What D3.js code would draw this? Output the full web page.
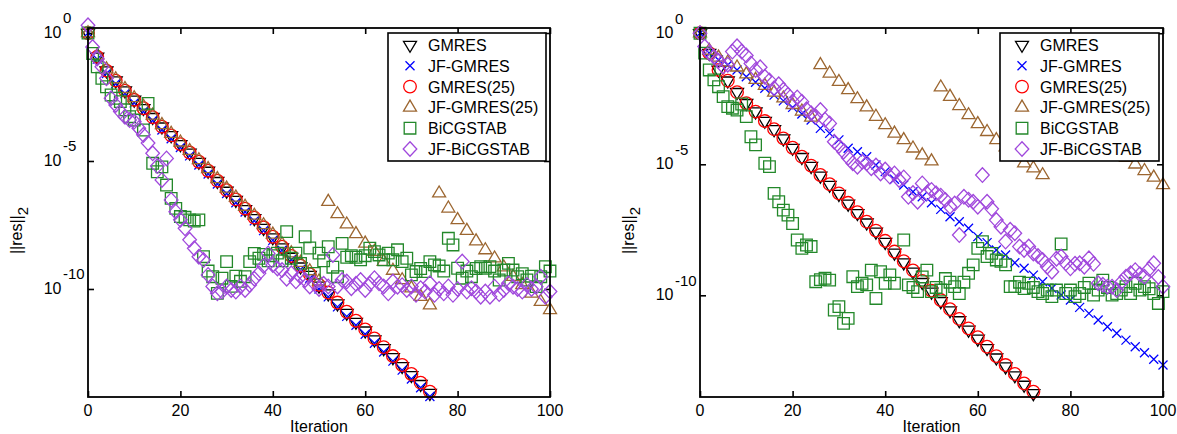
<!DOCTYPE html>
<meta charset="utf-8">
<style>
body { margin: 0; background: #fff; }
text { font-family: "Liberation Sans", Arial, sans-serif; font-size: 16px; fill: #000; }
.mk { fill: none; stroke-width: 1.3px; }
.frame { fill: none; stroke: #000; stroke-width: 1.8px; }
.axis path { display: none; }
.axis line { stroke: #000; stroke-width: 1.6px; }
</style>
<svg width="1177" height="434"></svg>
<script src="https://cdn.jsdelivr.net/npm/d3@7/dist/d3.min.js"></script>
<script>

// [iteration, log10 ||res||_2]

// ---- left panel ----
var leftGMRES = [[0,0],[2,-0.93],[4,-1.47],[6,-1.86],[8,-2.25],[10,-2.61],[12,-2.94],[14,-3.29],[16,-3.66],[18,-4.0],[20,-4.35],[22,-4.68],[24,-5.04],[26,-5.39],[28,-5.79],[30,-6.17],[32,-6.53],[34,-6.89],[36,-7.24],[38,-7.62],[40,-7.99],[42,-8.38],[44,-8.75],[46,-9.13],[48,-9.46],[50,-9.88],[52,-10.18],[54,-10.57],[56,-10.94],[58,-11.29],[60,-11.63],[62,-11.98],[64,-12.32],[66,-12.67],[68,-13.02],[70,-13.37],[72,-13.72],[74,-14.07]];
var leftJFGMRES = [[0,0],[2,-1.02],[4,-1.58],[6,-1.98],[8,-2.37],[10,-2.73],[12,-3.07],[14,-3.42],[16,-3.79],[18,-4.13],[20,-4.47],[22,-4.8],[24,-5.16],[26,-5.51],[28,-5.9],[30,-6.27],[32,-6.63],[34,-6.99],[36,-7.34],[38,-7.72],[40,-8.1],[42,-8.49],[44,-8.86],[46,-9.24],[48,-9.58],[50,-10.0],[52,-10.31],[54,-10.7],[56,-11.07],[58,-11.42],[60,-11.77],[62,-12.12],[64,-12.46],[66,-12.82],[68,-13.17],[70,-13.52],[72,-13.86],[74,-14.2]];
var leftGMRES25 = [[0,0],[2,-0.93],[4,-1.47],[6,-1.86],[8,-2.25],[10,-2.61],[12,-2.94],[14,-3.29],[16,-3.66],[18,-4.0],[20,-4.34],[22,-4.67],[24,-5.03],[26,-5.38],[28,-5.77],[30,-6.14],[32,-6.5],[34,-6.86],[36,-7.21],[38,-7.59],[40,-7.96],[42,-8.35],[44,-8.71],[46,-9.09],[48,-9.42],[50,-9.84],[52,-10.14],[54,-10.53],[56,-10.89],[58,-11.24],[60,-11.58],[62,-11.93],[64,-12.27],[66,-12.62],[68,-12.97],[70,-13.32],[72,-13.66],[74,-14.01]];
var leftJFGMRES25 = [[0,0],[2,-0.88],[4,-1.41],[6,-1.8],[8,-2.18],[10,-2.54],[12,-2.87],[14,-3.22],[16,-3.59],[18,-3.93],[20,-4.27],[22,-4.6],[24,-4.96],[26,-5.31],[28,-5.7],[30,-6.07],[32,-6.42],[34,-6.78],[36,-7.13],[38,-7.5],[40,-7.87],[42,-8.25],[44,-8.6],[46,-8.97],[48,-9.3],[50,-9.7],
  [52,-6.59],[54,-7.07],[56,-7.47],[58,-7.85],[60,-8.22],[62,-8.54],[64,-8.93],[66,-9.28],[68,-9.65],[70,-9.97],[72,-10.3],[74,-10.63],
  [76,-6.26],[78,-6.85],[80,-7.3],[82,-7.72],[84,-8.13],[86,-8.48],[88,-8.8],[90,-9.15],[92,-9.52],[94,-9.84],[96,-10.17],[98,-10.5],[100,-10.82]];
var leftBiCGSTAB = [[0,0],[1,-0.8],[2,-1.32],[3,-1.77],[4,-2.1],[5,-2.42],[6,-2.55],[7,-2.68],[8,-3.0],[9,-3.27],[10,-3.4],[12,-3.79],[13,-2.75],[14,-5.09],[15,-5.42],[16,-5.23],[17,-5.94],[18,-6.46],[19,-6.85],[20,-7.17],[21,-7.2],[22,-7.3],[23,-7.35],[24,-7.3],[25,-8.74],[26,-9.3],[27,-9.52],[28,-10.17],[29,-9.58],[30,-8.93],[31,-9.9],[32,-9.5],[33,-9.7],[34,-9.52],[35,-8.93],[36,-8.61],[37,-8.8],[38,-8.65],[39,-8.9],[40,-8.7],[41,-8.6],[42,-8.9],[43,-7.76],[44,-8.8],[45,-8.6],[46,-9.0],[47,-7.96],[48,-8.4],[49,-9.39],[50,-8.6],[51,-8.9],[52,-8.35],[53,-9.15],[54,-9.52],[55,-8.22],[56,-8.76],[57,-8.7],[58,-8.76],[59,-8.86],[60,-8.7],[61,-8.41],[62,-8.54],[63,-8.67],[64,-8.86],[65,-8.6],[66,-8.86],[67,-8.47],[68,-8.93],[69,-8.8],[70,-9.45],[71,-9.32],[72,-9.2],[73,-9.32],[74,-8.93],[75,-9.06],[76,-9.1],[77,-9.3],[78,-8.02],[79,-8.28],[80,-9.19],[81,-9.58],[82,-9.3],[83,-9.52],[84,-9.2],[85,-9.13],[86,-9.19],[87,-9.13],[88,-9.3],[89,-9.65],[90,-9.26],[91,-9.0],[92,-9.26],[93,-9.52],[94,-9.4],[95,-9.65],[96,-9.5],[97,-9.91],[98,-9.52],[99,-9.13],[100,-9.3]];
var leftJFBiCGSTAB = [[0,0.3],[1,-0.55],[2,-1.0],[3,-1.32],[4,-1.77],[5,-2.55],[6,-2.81],[7,-3.07],[8,-3.27],[9,-3.4],[10,-3.46],[11,-3.72],[12,-3.98],[13,-4.3],[14,-4.7],[15,-5.2],[16,-5.74],[17,-4.9],[18,-6.52],[19,-6.98],[20,-7.3],[21,-7.63],[22,-8.08],[23,-8.41],[24,-8.74],[25,-8.87],[26,-9.45],[27,-9.9],[28,-10.17],[29,-10.1],[30,-9.9],[31,-10.04],[32,-10.1],[33,-9.9],[34,-10.04],[35,-9.84],[36,-9.6],[37,-9.39],[38,-9.1],[39,-8.61],[40,-9.06],[41,-9.2],[42,-9.26],[43,-9.6],[44,-9.39],[45,-9.7],[46,-9.52],[47,-9.65],[48,-9.9],[49,-9.78],[50,-10.0],[51,-9.8],[52,-9.9],[53,-8.67],[54,-9.9],[55,-9.65],[56,-9.71],[57,-9.97],[58,-9.8],[59,-9.65],[60,-10.04],[61,-9.8],[62,-9.58],[63,-9.78],[64,-9.9],[65,-10.17],[66,-9.71],[67,-9.91],[68,-9.85],[69,-10.04],[70,-9.9],[71,-10.23],[72,-9.97],[73,-10.1],[74,-9.78],[75,-10.23],[76,-10.0],[77,-10.17],[78,-9.9],[79,-10.23],[80,-10.0],[81,-8.93],[82,-10.1],[83,-9.97],[84,-10.1],[85,-10.3],[86,-10.1],[87,-10.3],[88,-9.91],[89,-10.2],[90,-10.04],[91,-9.78],[92,-9.91],[93,-10.0],[94,-10.1],[95,-9.84],[96,-10.0],[97,-9.91],[98,-9.52],[99,-10.3],[100,-10.1]];

// ---- right panel ----
var rightGMRES = [[0,0],[2,-0.76],[4,-1.4],[6,-1.81],[8,-2.25],[10,-2.67],[12,-2.99],[14,-3.35],[16,-3.67],[18,-4.02],[20,-4.38],[22,-4.73],[24,-5.07],[26,-5.44],[28,-5.79],[30,-6.14],[32,-6.51],[34,-6.87],[36,-7.23],[38,-7.58],[40,-7.97],[42,-8.38],[44,-8.75],[46,-9.1],[48,-9.5],[50,-9.87],[52,-10.23],[54,-10.58],[56,-10.96],[58,-11.32],[60,-11.66],[62,-12.02],[64,-12.38],[66,-12.72],[68,-13.06],[70,-13.42],[72,-13.74]];
var rightJFGMRES = [[0,0],[2,-0.76],[4,-1.02],[6,-1.21],[8,-1.4],[10,-1.66],[12,-1.87],[14,-2.1],[16,-2.36],[18,-2.58],[20,-2.83],[22,-3.08],[24,-3.31],[26,-3.63],[28,-3.82],[30,-4.07],[32,-4.39],[34,-4.52],[36,-4.71],[38,-5.03],[40,-5.28],[42,-5.57],[44,-5.79],[46,-6.05],[48,-6.24],[50,-6.47],[52,-6.72],[54,-7.0],[56,-7.19],[58,-7.44],[60,-7.76],[62,-7.99],[64,-8.27],[66,-8.46],[68,-8.76],[70,-8.97],[72,-9.23],[74,-9.48],[76,-9.73],[78,-9.99],[80,-10.18],[82,-10.46],[84,-10.69],[86,-10.94],[88,-11.2],[90,-11.45],[92,-11.71],[94,-11.96],[96,-12.19],[98,-12.44],[100,-12.66]];
var rightGMRES25 = [[0,0],[2,-0.76],[4,-1.4],[6,-1.81],[8,-2.25],[10,-2.67],[12,-2.99],[14,-3.35],[16,-3.66],[18,-4.01],[20,-4.37],[22,-4.71],[24,-5.05],[26,-5.41],[28,-5.76],[30,-6.11],[32,-6.47],[34,-6.83],[36,-7.19],[38,-7.53],[40,-7.92],[42,-8.33],[44,-8.7],[46,-9.05],[48,-9.45],[50,-9.82],[52,-10.18],[54,-10.53],[56,-10.9],[58,-11.26],[60,-11.6],[62,-11.96],[64,-12.32],[66,-12.66],[68,-13.0],[70,-13.36],[72,-13.68]];
var rightJFGMRES25 = [[0,0],[2,-0.66],[4,-0.92],[6,-1.11],[8,-1.3],[10,-1.56],[12,-1.77],[14,-2.0],[16,-2.26],[18,-2.48],[20,-2.73],[22,-2.98],[24,-3.21],
  [26,-1.21],[28,-1.53],[30,-1.85],[32,-2.16],[34,-2.51],[36,-2.82],[38,-3.18],[40,-3.5],[42,-3.82],[44,-4.07],[46,-4.39],[48,-4.65],[50,-4.88],
  [52,-2.06],[54,-2.42],[56,-2.77],[58,-3.12],[60,-3.46],[62,-3.76],[64,-4.07],[66,-4.35],[68,-4.65],[70,-4.96],[72,-5.15],[74,-5.41],
  [76,-2.45],[78,-2.75],[80,-3.05],[82,-3.35],[84,-3.62],[86,-3.9],[88,-4.2],[90,-4.48],[92,-4.75],[94,-5.0],[96,-5.25],[98,-5.5],[100,-5.79]];
var rightBiCGSTAB = [[0,0],[1,-0.76],[2,-1.4],[3,-1.78],[4,-2.04],[5,-2.42],[6,-2.8],[7,-2.86],[8,-2.93],[9,-2.7],[10,-3.18],[11,-3.95],[12,-4.26],[14,-4.96],[15,-5.09],[16,-6.11],[17,-6.43],[18,-6.75],[19,-6.94],[20,-7.26],[21,-7.89],[22,-8.21],[23,-8.08],[24,-8.14],[25,-9.48],[26,-9.4],[27,-9.35],[28,-9.42],[29,-10.56],[30,-10.43],[31,-11.07],[32,-10.88],[33,-9.29],[34,-9.67],[35,-9.54],[36,-9.6],[37,-9.04],[38,-10.12],[39,-9.1],[40,-9.54],[41,-9.22],[42,-9.54],[44,-7.89],[45,-9.6],[46,-9.7],[47,-9.86],[48,-9.3],[49,-9.04],[50,-9.86],[51,-9.7],[52,-9.8],[53,-9.36],[54,-9.5],[55,-9.67],[56,-9.93],[57,-9.5],[58,-9.16],[59,-8.84],[60,-8.21],[61,-7.95],[62,-8.52],[63,-8.4],[64,-8.65],[65,-8.7],[66,-8.84],[67,-9.67],[68,-9.67],[69,-9.5],[70,-9.74],[71,-9.54],[72,-9.7],[73,-9.86],[74,-9.93],[75,-9.8],[76,-10.05],[77,-9.8],[78,-8.04],[79,-9.93],[80,-9.8],[81,-10.05],[82,-9.93],[83,-9.7],[84,-9.54],[85,-9.99],[86,-9.8],[87,-9.42],[88,-9.7],[89,-9.99],[90,-9.93],[91,-9.8],[92,-9.67],[93,-9.93],[94,-9.54],[95,-9.8],[96,-9.67],[97,-9.75],[98,-9.93],[99,-10.31],[100,-9.86]];
var rightJFBiCGSTAB = [[0,0],[1,-0.51],[2,-0.75],[3,-0.9],[4,-1.05],[5,-1.27],[6,-1.2],[7,-0.7],[8,-0.5],[9,-0.7],[10,-0.85],[11,-1.15],[12,-1.4],[13,-1.3],[14,-1.66],[15,-1.8],[16,-2.1],[17,-1.95],[18,-2.16],[19,-2.35],[20,-2.6],[21,-2.45],[22,-2.61],[23,-2.9],[24,-3.05],[25,-3.18],[26,-2.93],[27,-3.3],[28,-3.44],[29,-4.14],[30,-4.3],[31,-4.52],[32,-4.75],[33,-4.96],[34,-5.09],[35,-4.9],[36,-4.96],[37,-5.15],[38,-5.05],[39,-5.35],[40,-5.2],[41,-5.47],[42,-5.35],[43,-5.6],[44,-5.5],[45,-6.24],[46,-6.1],[47,-6.43],[48,-5.73],[49,-6.11],[50,-5.98],[51,-6.11],[52,-6.2],[53,-6.36],[54,-6.62],[55,-6.5],[56,-7.7],[57,-6.24],[58,-6.35],[59,-6.43],[60,-6.62],[61,-5.41],[62,-6.43],[63,-6.7],[64,-7.13],[65,-7.38],[66,-7.95],[67,-7.5],[68,-7.63],[69,-8.14],[70,-8.27],[71,-8.14],[72,-8.4],[73,-8.5],[74,-8.65],[75,-8.91],[76,-9.1],[77,-8.6],[78,-8.52],[79,-8.78],[80,-8.97],[81,-8.8],[82,-8.78],[83,-8.91],[84,-8.59],[85,-8.8],[86,-9.54],[87,-9.6],[88,-9.67],[89,-9.67],[90,-9.8],[91,-9.5],[92,-9.29],[93,-9.16],[94,-9.04],[95,-9.2],[96,-9.29],[97,-9.0],[98,-8.78],[99,-9.3],[100,-9.67]];

var seriesNames = ["GMRES", "JF-GMRES", "GMRES(25)", "JF-GMRES(25)", "BiCGSTAB", "JF-BiCGSTAB"];
var xTicks = [0, 20, 40, 60, 80, 100];
var yTickExps = [0, -5, -10];

var colors = ["#000000", "#0000ff", "#ff0000", "#9c6630", "#23882a", "#a048dc"];
var shapes = ["tridown", "cross", "circle", "triup", "square", "diamond"];

function shapePath(s) {
  switch (s) {
    case "tridown": return "M-6.5,-3.7L6.5,-3.7L0,7.3Z";
    case "triup": return "M-6.5,3.7L6.5,3.7L0,-7.3Z";
    case "cross": return "M-4.5,-4.5L4.5,4.5M-4.5,4.5L4.5,-4.5";
    case "circle": return "M6.3,0A6.3,6.3 0 1,1 -6.3,0A6.3,6.3 0 1,1 6.3,0Z";
    case "square": return "M-5.8,-5.8H5.8V5.8H-5.8Z";
    case "diamond": return "M0,-7.3L6.8,0L0,7.3L-6.8,0Z";
  }
}

var panels = [
  {x0: 88, x1: 550, y0: 28, y1: 397, top: 0.195, bottom: -14.22, legendX: 388,
   data: [leftGMRES, leftJFGMRES, leftGMRES25, leftJFGMRES25, leftBiCGSTAB, leftJFBiCGSTAB]},
  {x0: 700, x1: 1163, y0: 28, y1: 397, top: 0.2, bottom: -13.88, legendX: 1000,
   data: [rightGMRES, rightJFGMRES, rightGMRES25, rightJFGMRES25, rightBiCGSTAB, rightJFBiCGSTAB]}
];

var svg = d3.select("svg");

panels.forEach(function(p) {
  var x = d3.scaleLinear().domain([0, 100]).range([p.x0, p.x1]);
  var y = d3.scaleLog().domain([Math.pow(10, p.top), Math.pow(10, p.bottom)]).range([p.y0, p.y1]);
  var g = svg.append("g");

  // ticks, pointing inward on all four sides
  g.append("g").attr("class", "axis")
    .attr("transform", "translate(0," + p.y1 + ")")
    .call(d3.axisBottom(x).tickValues(xTicks).tickSizeInner(-6).tickSizeOuter(0).tickFormat(""));
  g.append("g").attr("class", "axis")
    .attr("transform", "translate(0," + p.y0 + ")")
    .call(d3.axisTop(x).tickValues(xTicks).tickSizeInner(-6).tickSizeOuter(0).tickFormat(""));
  var yVals = yTickExps.map(function(e) { return Math.pow(10, e); });
  g.append("g").attr("class", "axis")
    .attr("transform", "translate(" + p.x0 + ",0)")
    .call(d3.axisLeft(y).tickValues(yVals).tickSizeInner(-6).tickSizeOuter(0).tickFormat(""));
  g.append("g").attr("class", "axis")
    .attr("transform", "translate(" + p.x1 + ",0)")
    .call(d3.axisRight(y).tickValues(yVals).tickSizeInner(-6).tickSizeOuter(0).tickFormat(""));

  // x tick labels
  g.selectAll(".xl").data(xTicks).enter().append("text")
    .attr("x", function(d) { return x(d); })
    .attr("y", p.y1 + 19)
    .attr("text-anchor", "middle")
    .text(function(d) { return d; });

  // y tick labels 10^e
  yTickExps.forEach(function(e) {
    var ty = y(Math.pow(10, e));
    g.append("text").attr("x", p.x0 - 26.5).attr("y", ty + 5).attr("text-anchor", "end").text("10");
    g.append("text").attr("x", p.x0 - 25).attr("y", ty - 9.5).style("font-size", "15px").text(e === 0 ? "0" : "-" + (-e));
  });

  // axis titles
  g.append("text").attr("x", (p.x0 + p.x1) / 2).attr("y", p.y1 + 35)
    .attr("text-anchor", "middle").text("Iteration");
  var yl = g.append("text")
    .attr("transform", "translate(" + (p.x0 - 66) + "," + ((p.y0 + p.y1) / 2 + 18) + ") rotate(-90)")
    .attr("text-anchor", "middle");
  yl.append("tspan").text("||res||");
  yl.append("tspan").attr("dy", 6).style("font-size", "15px").text("2");

  // markers
  p.data.forEach(function(series, k) {
    g.append("g").selectAll("path").data(series).enter().append("path")
      .attr("class", "mk")
      .attr("stroke", colors[k])
      .attr("transform", function(d) { return "translate(" + x(d[0]) + "," + y(Math.pow(10, d[1])) + ")"; })
      .attr("d", shapePath(shapes[k]));
  });

  // frame
  g.append("rect").attr("class", "frame")
    .attr("x", p.x0).attr("y", p.y0).attr("width", p.x1 - p.x0).attr("height", p.y1 - p.y0);

  // legend (opaque)
  var lg = g.append("g").attr("transform", "translate(" + p.legendX + "," + 33 + ")");
  lg.append("rect").attr("width", p.x1 - 4 - p.legendX).attr("height", 128)
    .attr("fill", "#fff").attr("stroke", "#000").attr("stroke-width", 1.6);
  seriesNames.forEach(function(name, k) {
    var cy = 12 + k * 20.8;
    lg.append("path").attr("class", "mk").attr("stroke", colors[k])
      .attr("transform", "translate(22," + cy + ")").attr("d", shapePath(shapes[k]));
    lg.append("text").attr("x", 40).attr("y", cy + 6).text(name);
  });
});

</script>
